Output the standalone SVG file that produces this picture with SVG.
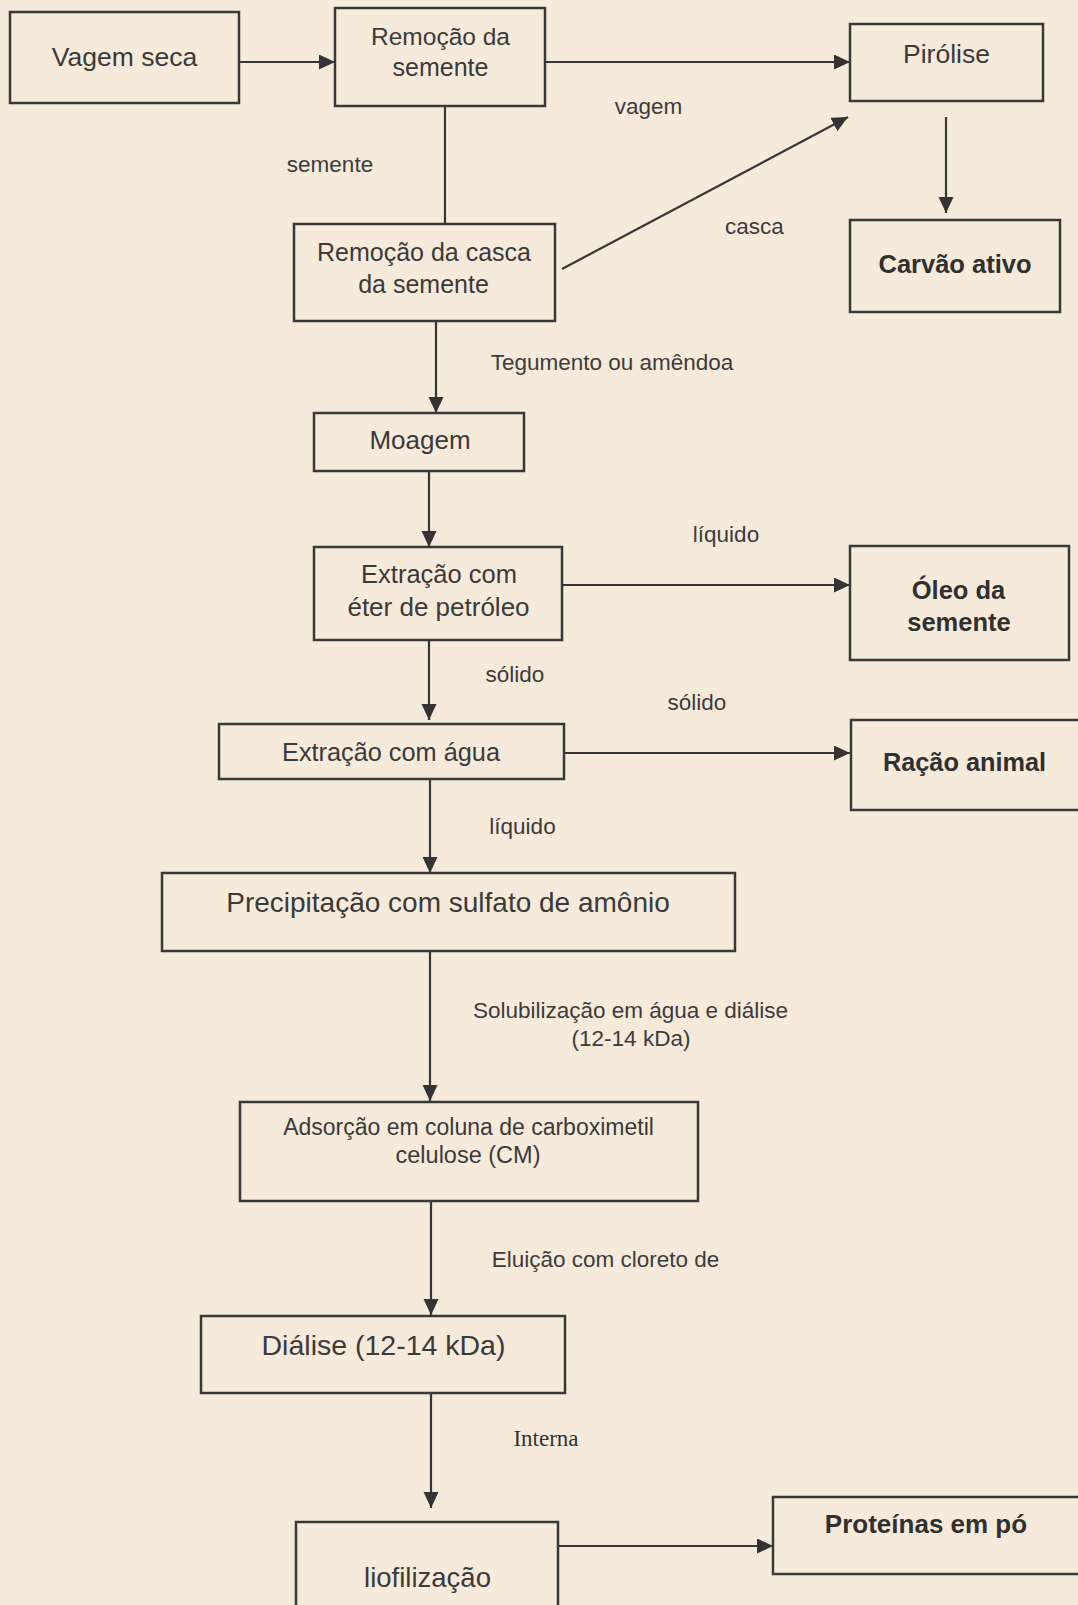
<svg xmlns="http://www.w3.org/2000/svg" width="1078" height="1605" viewBox="0 0 1078 1605">
<style>
.box{fill:none;stroke:#393939;stroke-width:2.5}
.n{font-family:"Liberation Sans",Arial,sans-serif;fill:#3a3a3a;text-anchor:middle}
.b{font-weight:bold;fill:#303030}
.l{font-family:"Liberation Sans",Arial,sans-serif;fill:#3c3c3c;text-anchor:middle;font-size:22.5px}
.s{font-family:"Liberation Serif","Times New Roman",serif;fill:#333;text-anchor:middle;font-size:23px}
.c{fill:none;stroke:#363636;stroke-width:2.2}
.h{marker-end:url(#ah)}
</style>
<defs>
<marker id="ah" markerUnits="userSpaceOnUse" markerWidth="17" markerHeight="16" refX="16" refY="7.5" orient="auto"><path d="M0,0L16,7.5L0,15z" fill="#333"/></marker>
</defs>
<rect width="1078" height="1605" fill="#f6eadb"/>

<g id="connectors">
<line class="c h" x1="239" y1="62" x2="335" y2="62"/>
<line class="c h" x1="545" y1="62" x2="850" y2="62"/>
<line class="c" x1="445" y1="106" x2="445" y2="224"/>
<line class="c h" x1="562" y1="269" x2="848" y2="117"/>
<line class="c h" x1="946" y1="117" x2="946" y2="213"/>
<line class="c h" x1="436" y1="321" x2="436" y2="413"/>
<line class="c h" x1="429" y1="471" x2="429" y2="547"/>
<line class="c h" x1="562" y1="585" x2="850" y2="585"/>
<line class="c h" x1="429" y1="640" x2="429" y2="720"/>
<line class="c h" x1="564" y1="753" x2="850" y2="753"/>
<line class="c h" x1="430" y1="779" x2="430" y2="873"/>
<line class="c h" x1="430" y1="951" x2="430" y2="1101"/>
<line class="c h" x1="431" y1="1201" x2="431" y2="1315"/>
<line class="c h" x1="431" y1="1393" x2="431" y2="1508"/>
<line class="c h" x1="558" y1="1546" x2="773" y2="1546"/>
</g>

<g id="labels">
<text class="l" x="648.5" y="114">vagem</text>
<text class="l" x="330" y="172">semente</text>
<text class="l" x="754.5" y="234">casca</text>
<text class="l" x="612" y="370">Tegumento ou amêndoa</text>
<text class="l" x="726" y="542">líquido</text>
<text class="l" x="515" y="682">sólido</text>
<text class="l" x="697" y="710">sólido</text>
<text class="l" x="522.5" y="834">líquido</text>
<text class="l" x="630.5" y="1018">Solubilização em água e diálise</text>
<text class="l" x="631" y="1046">(12-14 kDa)</text>
<text class="l" x="605.5" y="1267">Eluição com cloreto de</text>
<text class="s" x="546" y="1446">Interna</text>
</g>

<g id="vagem-seca">
<rect class="box" x="10" y="12" width="229" height="91"/>
<text class="n" x="124.5" y="66" font-size="26.5">Vagem seca</text>
</g>
<g id="remocao-semente">
<rect class="box" x="335" y="8" width="210" height="98"/>
<text class="n" x="440.5" y="45" font-size="24.5">Remoção da</text>
<text class="n" x="440.5" y="76" font-size="25">semente</text>
</g>
<g id="pirolise">
<rect class="box" x="850" y="24" width="193" height="77"/>
<text class="n" x="946.5" y="63" font-size="26.5">Pirólise</text>
</g>
<g id="remocao-casca">
<rect class="box" x="294" y="224" width="261" height="97"/>
<text class="n" x="424" y="261" font-size="25">Remoção da casca</text>
<text class="n" x="423.5" y="293" font-size="25">da semente</text>
</g>
<g id="carvao-ativo">
<rect class="box" x="850" y="220" width="210" height="92"/>
<text class="n b" x="955" y="273" font-size="25.5">Carvão ativo</text>
</g>
<g id="moagem">
<rect class="box" x="314" y="413" width="210" height="58"/>
<text class="n" x="420" y="449" font-size="26">Moagem</text>
</g>
<g id="extracao-eter">
<rect class="box" x="314" y="547" width="248" height="93"/>
<text class="n" x="439" y="583" font-size="25.5">Extração com</text>
<text class="n" x="438.5" y="616" font-size="26">éter de petróleo</text>
</g>
<g id="oleo-semente">
<rect class="box" x="850" y="546" width="219" height="114"/>
<text class="n b" x="958.5" y="599" font-size="25.5">Óleo da</text>
<text class="n b" x="959" y="631" font-size="25.5">semente</text>
</g>
<g id="extracao-agua">
<rect class="box" x="219" y="724" width="345" height="55"/>
<text class="n" x="391" y="761" font-size="25.3">Extração com água</text>
</g>
<g id="racao-animal">
<path class="box" d="M1082,720H851V810H1082"/>
<text class="n b" x="964.5" y="771" font-size="25.3">Ração animal</text>
</g>
<g id="precipitacao">
<rect class="box" x="162" y="873" width="573" height="78"/>
<text class="n" x="448" y="912" font-size="28">Precipitação com sulfato de amônio</text>
</g>
<g id="adsorcao">
<rect class="box" x="240" y="1102" width="458" height="99"/>
<text class="n" x="468.5" y="1135" font-size="23">Adsorção em coluna de carboximetil</text>
<text class="n" x="468" y="1163" font-size="23.5">celulose (CM)</text>
</g>
<g id="dialise">
<rect class="box" x="201" y="1316" width="364" height="77"/>
<text class="n" x="383.5" y="1355" font-size="28.5">Diálise (12-14 kDa)</text>
</g>
<g id="liofilizacao">
<path class="box" d="M296,1610V1522H558V1610"/>
<text class="n" x="427.5" y="1587" font-size="27.5">liofilização</text>
</g>
<g id="proteinas">
<path class="box" d="M1082,1497H773V1574H1082"/>
<text class="n b" x="926" y="1533" font-size="26">Proteínas em pó</text>
</g>
</svg>
